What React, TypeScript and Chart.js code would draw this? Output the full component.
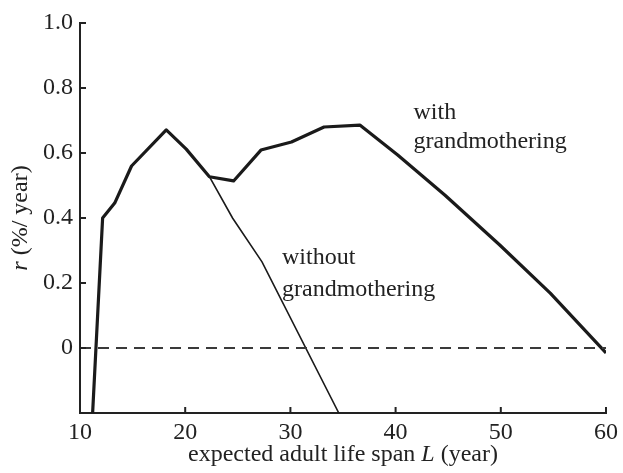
import React, { useEffect, useRef } from "react";
import { Chart, registerables } from "chart.js";

Chart.register(...registerables);

// Data
const withGrandX = [11.2, 12.15, 13.3, 14.9, 18.2, 20.1, 22.3, 24.6, 27.2, 30.1, 33.2, 36.6, 40.2, 44.7, 49.9, 54.7, 60];
const withGrandY = [-0.2, 0.4, 0.446, 0.56, 0.671, 0.612, 0.527, 0.514, 0.609, 0.634, 0.68, 0.686, 0.594, 0.47, 0.317, 0.169, -0.015];
const withoutGrandX = [22.3, 24.5, 27.3, 34.6];
const withoutGrandY = [0.527, 0.4, 0.265, -0.2];
const zeroLineX = [10, 60];
const zeroLineY = [0, 0];
const xTicks = [10, 20, 30, 40, 50, 60];
const yTicks = [0, 0.2, 0.4, 0.6, 0.8, 1.0];

const labelWith = { x: 41.7, lines: ["with", "grandmothering"], y: [0.723, 0.634] };
const labelWithout = { x: 29.2, lines: ["without", "grandmothering"], y: [0.277, 0.178] };

const FONT = "'Liberation Serif', 'DejaVu Serif', serif";
const FS = 24;
const INK = "#222";

function zip(xs: number[], ys: number[]) {
  return xs.map((x, i) => ({ x, y: ys[i] }));
}

function drawSegments(ctx: CanvasRenderingContext2D, segs: [string, boolean][], cx: number, cy: number) {
  const widths = segs.map(([t, it]) => {
    ctx.font = `${it ? "italic " : ""}${FS}px ${FONT}`;
    return ctx.measureText(t).width;
  });
  const total = widths.reduce((a, b) => a + b, 0);
  let x = cx - total / 2;
  segs.forEach(([t, it], i) => {
    ctx.font = `${it ? "italic " : ""}${FS}px ${FONT}`;
    ctx.fillText(t, x, cy);
    x += widths[i];
  });
}

const decorPlugin = {
  id: "decor",
  afterDraw(chart: any) {
    const ctx = chart.ctx as CanvasRenderingContext2D;
    const xs = chart.scales.x;
    const ys = chart.scales.y;
    const area = chart.chartArea;
    ctx.save();
    // inward ticks
    ctx.strokeStyle = INK;
    ctx.lineWidth = 2;
    ctx.beginPath();
    xTicks.forEach((v) => {
      const px = xs.getPixelForValue(v);
      ctx.moveTo(px, area.bottom);
      ctx.lineTo(px, area.bottom - 6);
    });
    yTicks.forEach((v) => {
      const py = ys.getPixelForValue(v);
      ctx.moveTo(area.left, py);
      ctx.lineTo(area.left + 6, py);
    });
    ctx.stroke();

    // annotations
    ctx.fillStyle = INK;
    ctx.font = `${FS}px ${FONT}`;
    ctx.textAlign = "left";
    ctx.textBaseline = "middle";
    [labelWith, labelWithout].forEach((lab) => {
      lab.lines.forEach((t, i) => {
        ctx.fillText(t, xs.getPixelForValue(lab.x), ys.getPixelForValue(lab.y[i]));
      });
    });

    // axis titles
    ctx.textAlign = "left";
    ctx.textBaseline = "middle";
    drawSegments(ctx, [["expected adult life span ", false], ["L", true], [" (year)", false]], (area.left + area.right) / 2, 455);
    ctx.save();
    ctx.translate(21, (area.top + area.bottom) / 2);
    ctx.rotate(-Math.PI / 2);
    drawSegments(ctx, [["r", true], [" (%/ year)", false]], 0, 0);
    ctx.restore();
    ctx.restore();
  },
};

export default function App() {
  const ref = useRef<HTMLCanvasElement>(null);
  useEffect(() => {
    if (!ref.current) return;
    const chart = new Chart(ref.current, {
      type: "line",
      data: {
        datasets: [
          {
            data: zip(zeroLineX, zeroLineY),
            borderColor: "#3a3a3a",
            borderWidth: 2,
            borderDash: [11, 7],
            pointRadius: 0,
          },
          {
            data: zip(withoutGrandX, withoutGrandY),
            borderColor: "#1a1a1a",
            borderWidth: 1.6,
            pointRadius: 0,
          },
          {
            data: zip(withGrandX, withGrandY),
            borderColor: "#1a1a1a",
            borderWidth: 3.2,
            pointRadius: 0,
            borderJoinStyle: "round",
          },
        ],
      },
      options: {
        animation: false,
        responsive: false,
        devicePixelRatio: 1,
        layout: { padding: { top: 23, right: 14, left: 0, bottom: 0 } },
        plugins: { legend: { display: false }, tooltip: { enabled: false } },
        scales: {
          x: {
            type: "linear",
            min: 10,
            max: 60,
            afterBuildTicks: (s: any) => {
              s.ticks = xTicks.map((v) => ({ value: v }));
            },
            afterFit: (s: any) => {
              s.height = 60;
            },
            grid: { drawOnChartArea: false, drawTicks: false },
            border: { display: true, color: INK, width: 2 },
            ticks: {
              color: INK,
              font: { family: FONT, size: FS },
              padding: 5,
              maxRotation: 0,
              callback: (v: any) => String(v),
            },
          },
          y: {
            type: "linear",
            min: -0.2,
            max: 1.0,
            afterBuildTicks: (s: any) => {
              s.ticks = yTicks.map((v) => ({ value: v }));
            },
            afterFit: (s: any) => {
              s.width = 80;
            },
            grid: { drawOnChartArea: false, drawTicks: false },
            border: { display: true, color: INK, width: 2 },
            ticks: {
              color: INK,
              font: { family: FONT, size: FS },
              padding: 7,
              callback: (v: any) => (Math.abs(v) < 1e-9 ? "0" : Number(v).toFixed(1)),
            },
          },
        },
      },
      plugins: [decorPlugin],
    });
    return () => chart.destroy();
  }, []);
  return (
    <div style={{ position: "absolute", left: 0, top: 0, width: 623, height: 473, background: "#fff" }}>
      <canvas ref={ref} width={623} height={473} />
    </div>
  );
}
